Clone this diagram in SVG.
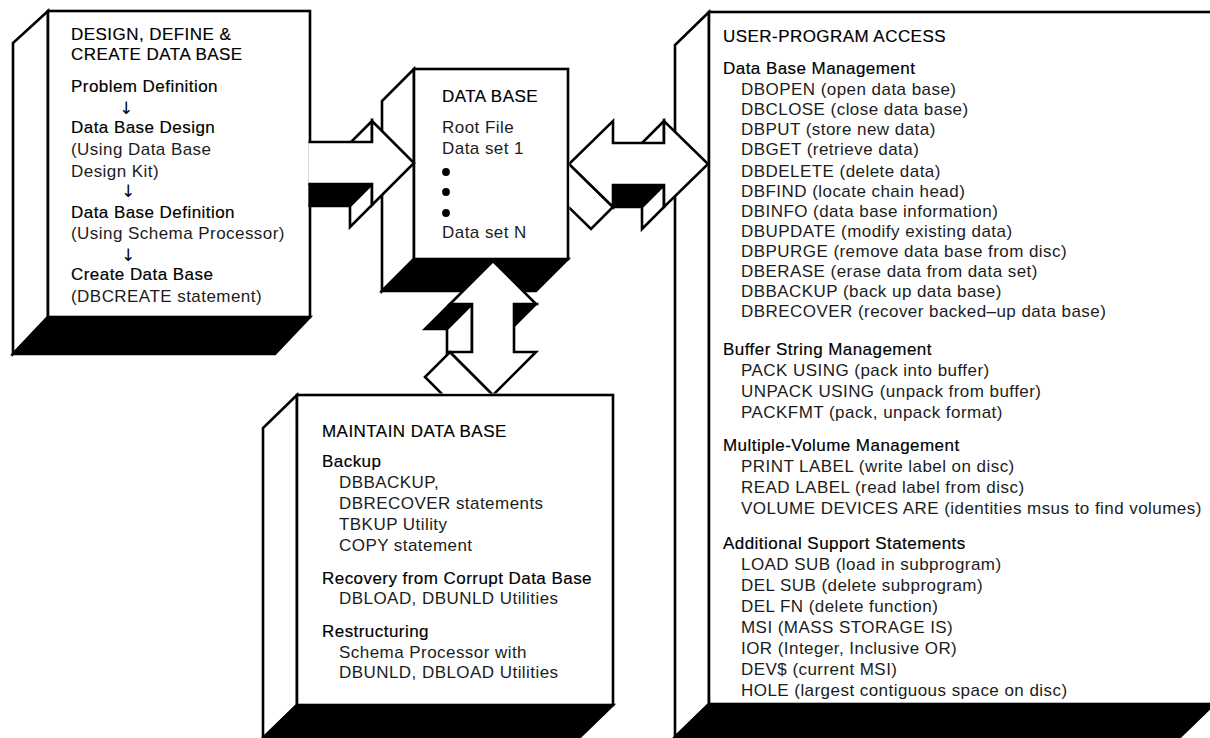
<svg xmlns="http://www.w3.org/2000/svg" width="1210" height="738" viewBox="0 0 1210 738">
<defs>
<style>
.face{fill:#fff;stroke:#000;stroke-width:2.6;stroke-linejoin:miter;stroke-miterlimit:6}
.shade{fill:#000;stroke:#000;stroke-width:2.6;stroke-linejoin:miter;stroke-miterlimit:6}
text{font-family:"Liberation Sans",Arial,Helvetica,sans-serif;font-size:17px;letter-spacing:0.45px;fill:#1c1c1c}
.h{fill:#000;stroke:#000;stroke-width:0.18px}
.arr{font-family:"DejaVu Sans",sans-serif;font-size:17px;letter-spacing:0;text-anchor:middle;fill:#000;opacity:0.99}
</style>
<clipPath id="clipL"><rect x="308.5" y="0" width="200" height="300"/></clipPath>
<clipPath id="clipR"><rect x="569.5" y="0" width="200" height="300"/></clipPath>
<clipPath id="clipV"><rect x="380" y="250" width="200" height="143.5"/></clipPath>
</defs>
<rect width="1210" height="738" fill="#fff"/>

<!-- Design / define / create block -->
<g id="design-box">
<polygon class="face" points="48,11 13,43 13,354 48,317"/>
<polygon class="shade" points="48,317 310,317 275,354 13,354"/>
<rect class="face" x="48" y="11" width="262" height="306"/>
<text class="h" x="71" y="40">DESIGN, DEFINE &amp;</text>
<text class="h" x="71" y="60">CREATE DATA BASE</text>
<text class="h" x="71" y="92">Problem Definition</text>
<text class="arr" x="126" y="114">↓</text>
<text class="h" x="71" y="133">Data Base Design</text>
<text x="71" y="155">(Using Data Base</text>
<text x="71" y="177">Design Kit)</text>
<text class="arr" x="128" y="197">↓</text>
<text class="h" x="71" y="218">Data Base Definition</text>
<text x="71" y="239">(Using Schema Processor)</text>
<text class="arr" x="128" y="261">↓</text>
<text class="h" x="71" y="280">Create Data Base</text>
<text x="71" y="302">(DBCREATE statement)</text>
</g>

<!-- Central data base block -->
<g id="database-box">
<polygon class="face" points="414,69 382,101 382,291 414,259"/>
<polygon class="shade" points="414,259 568,259 536,291 382,291"/>
<rect class="face" x="414" y="69" width="154" height="190"/>
<text class="h" x="442" y="102">DATA BASE</text>
<text x="442" y="133">Root File</text>
<text x="442" y="154">Data set 1</text>
<circle cx="446" cy="172" r="3.9" fill="#000"/>
<circle cx="446" cy="192" r="3.9" fill="#000"/>
<circle cx="446" cy="213" r="3.9" fill="#000"/>
<text x="442" y="238">Data set N</text>
</g>

<!-- Maintenance block -->
<g id="maintain-box">
<polygon class="face" points="297,395 263,428 263,738 297,705"/>
<polygon class="shade" points="297,705 613,705 579,738 263,738"/>
<rect class="face" x="297" y="395" width="316" height="310"/>
<text class="h" x="322" y="437">MAINTAIN DATA BASE</text>
<text class="h" x="322" y="467">Backup</text>
<text x="339" y="488">DBBACKUP,</text>
<text x="339" y="509">DBRECOVER statements</text>
<text x="339" y="530">TBKUP Utility</text>
<text x="339" y="551">COPY statement</text>
<text class="h" x="322" y="584">Recovery from Corrupt Data Base</text>
<text x="339" y="604">DBLOAD, DBUNLD Utilities</text>
<text class="h" x="322" y="637">Restructuring</text>
<text x="339" y="658">Schema Processor with</text>
<text x="339" y="678">DBUNLD, DBLOAD Utilities</text>
</g>

<!-- User-program access block -->
<g id="user-access-box">
<polygon class="face" points="709,12 675,45 675,737 709,704"/>
<polygon class="shade" points="709,704 1214,704 1180,737 675,737"/>
<rect class="face" x="709" y="12" width="505" height="692"/>
<text class="h" x="723" y="42">USER-PROGRAM ACCESS</text>
<text class="h" x="723" y="74">Data Base Management</text>
<text x="741" y="95">DBOPEN (open data base)</text>
<text x="741" y="115">DBCLOSE (close data base)</text>
<text x="741" y="135">DBPUT (store new data)</text>
<text x="741" y="155">DBGET (retrieve data)</text>
<text x="741" y="177">DBDELETE (delete data)</text>
<text x="741" y="197">DBFIND (locate chain head)</text>
<text x="741" y="217">DBINFO (data base information)</text>
<text x="741" y="237">DBUPDATE (modify existing data)</text>
<text x="741" y="257">DBPURGE (remove data base from disc)</text>
<text x="741" y="277">DBERASE (erase data from data set)</text>
<text x="741" y="297">DBBACKUP (back up data base)</text>
<text x="741" y="317">DBRECOVER (recover backed–up data base)</text>
<text class="h" x="723" y="355">Buffer String Management</text>
<text x="741" y="376">PACK USING (pack into buffer)</text>
<text x="741" y="397">UNPACK USING (unpack from buffer)</text>
<text x="741" y="418">PACKFMT (pack, unpack format)</text>
<text class="h" x="723" y="451">Multiple-Volume Management</text>
<text x="741" y="472">PRINT LABEL (write label on disc)</text>
<text x="741" y="493">READ LABEL (read label from disc)</text>
<text x="741" y="514">VOLUME DEVICES ARE (identities msus to find volumes)</text>
<text class="h" x="723" y="549">Additional Support Statements</text>
<text x="741" y="570">LOAD SUB (load in subprogram)</text>
<text x="741" y="591">DEL SUB (delete subprogram)</text>
<text x="741" y="612">DEL FN (delete function)</text>
<text x="741" y="633">MSI (MASS STORAGE IS)</text>
<text x="741" y="654">IOR (Integer, Inclusive OR)</text>
<text x="741" y="675">DEV$ (current MSI)</text>
<text x="741" y="696">HOLE (largest contiguous space on disc)</text>
</g>

<!-- Extruded block arrows -->
<g id="connectors">
<g id="arrow-design-to-db" clip-path="url(#clipL)">
<polygon class="shade" points="280,184 372,184 350,206 258,206"/>
<polygon class="face" points="372,121 372,142 350,164 350,143"/>
<polygon class="face" points="372,184 372,205 350,227 350,206"/>
<polygon class="face" points="280,142 372,142 372,121 414,163 372,205 372,184 280,184"/>
</g>
<g id="arrow-db-user" clip-path="url(#clipR)">
<polygon class="shade" points="613,185 664,185 642,207 591,207"/>
<polygon class="face" points="664,121 664,143 642,165 642,143"/>
<polygon class="face" points="664,185 664,207 642,229 642,207"/>
<polygon class="face" points="569,164 613,207 591,229 547,186"/>
<polygon class="face" points="569,164 613,121 613,143 664,143 664,121 708,164 664,207 664,185 613,185 613,207"/>
</g>
<g id="arrow-db-maintain" clip-path="url(#clipV)">
<polygon class="shade" points="450,304 472,304 447,329 425,329"/>
<polygon class="shade" points="514,304 536,304 511,329 489,329"/>
<polygon class="face" points="472,304 472,352 447,377 447,329"/>
<polygon class="face" points="450,352 493,395 468,420 425,377"/>
<polygon class="face" points="493,261 536,304 514,304 514,352 536,352 493,395 450,352 472,352 472,304 450,304"/>
</g>
</g>
</svg>
